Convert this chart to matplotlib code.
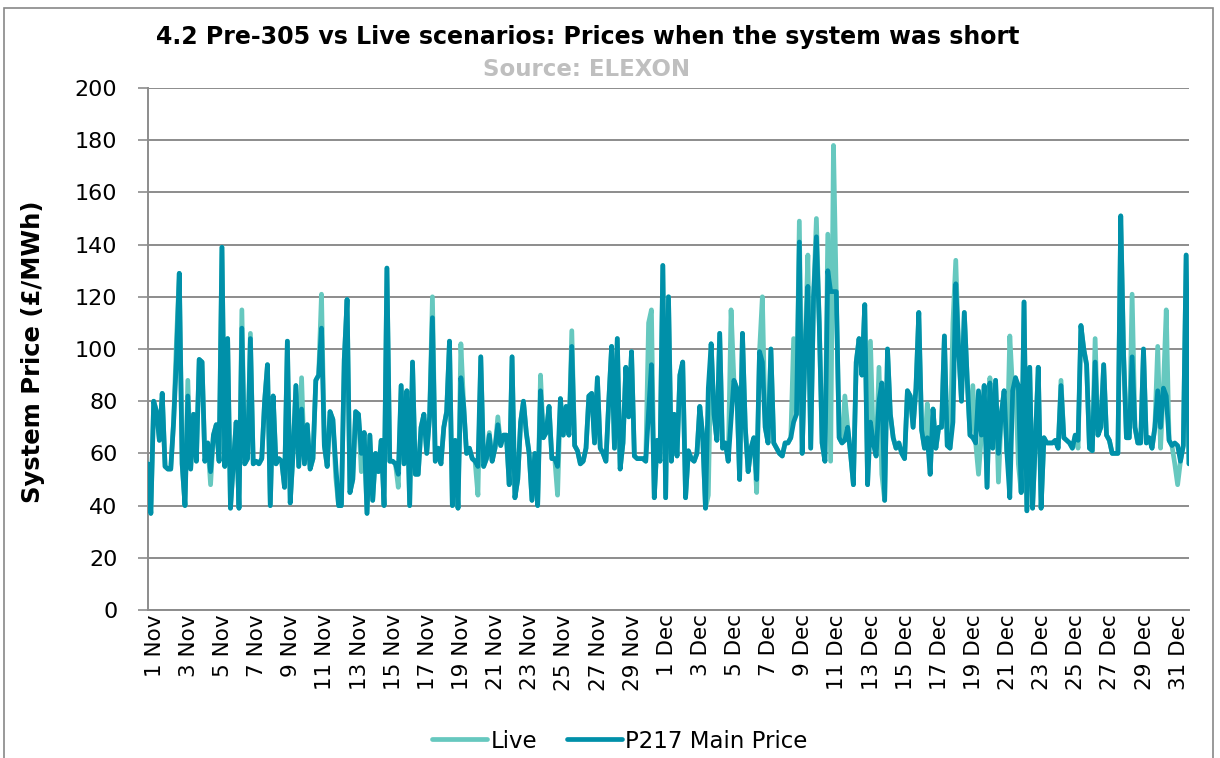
import numpy as np
import matplotlib
matplotlib.use("Agg")
import matplotlib.pyplot as plt
from matplotlib.patches import Rectangle

# ---------------- data ----------------
points_per_day = 6
tick_labels = ["1 Nov", "3 Nov", "5 Nov", "7 Nov", "9 Nov", "11 Nov", "13 Nov", "15 Nov",
               "17 Nov", "19 Nov", "21 Nov", "23 Nov", "25 Nov", "27 Nov", "29 Nov",
               "1 Dec", "3 Dec", "5 Dec", "7 Dec", "9 Dec", "11 Dec", "13 Dec", "15 Dec",
               "17 Dec", "19 Dec", "21 Dec", "23 Dec", "25 Dec", "27 Dec", "29 Dec", "31 Dec"]

p217_nov_a = [56, 37, 80, 76, 65, 83, 55, 54, 54, 72, 96, 129, 56, 40, 82, 54, 75, 57, 96, 95,
              57, 64, 53, 67, 71, 57, 139, 55, 104, 39, 56, 72, 39, 108, 56, 58, 104, 56, 57, 56,
              58, 80, 94, 40, 82, 56, 58, 57, 47, 103, 41]
p217_nov_b = [60, 86, 55, 77, 56, 71, 54, 58, 88, 90, 108, 63, 55, 76, 73, 56, 40, 40, 96, 119,
              45, 50, 76, 75, 60, 68, 37, 67, 42, 60, 53, 65, 40, 131, 57, 57, 56, 52, 86, 56,
              84, 40, 95, 52, 52, 70, 75, 60, 74, 112]
p217_nov_c = [57, 62, 56, 70, 76, 103, 40, 65, 39, 89, 78, 60, 62, 58, 57, 55, 97, 55, 58, 67,
              57, 62, 71, 63, 67, 67, 48, 97, 43, 50, 72, 80, 68, 60, 42, 60, 40, 84, 66, 68,
              78, 58, 58, 55, 81, 67, 78, 67, 101, 63, 61]
p217_dec_a = [56, 57, 62, 82, 83, 64, 89, 62, 60, 57, 80, 101, 62, 104, 54, 64, 93, 74, 99, 59,
              58, 58, 58, 57, 76, 94, 43, 65, 57, 132, 43, 120, 57, 75, 59, 90, 95, 43, 61, 58,
              57, 60, 78, 67, 39, 85, 102, 75, 65, 106, 62]
p217_dec_b = [64, 57, 73, 88, 85, 50, 106, 70, 53, 62, 66, 50, 99, 95, 70, 64, 100, 64, 62, 60,
              59, 64, 64, 66, 72, 75, 141, 60, 100, 124, 62, 120, 143, 110, 64, 57, 130, 122, 122, 122,
              66, 64, 65, 70, 60, 48, 95, 104, 90, 117, 48]
p217_dec_c = [72, 64, 59, 80, 87, 42, 100, 75, 66, 62, 64, 60, 58, 84, 82, 70, 85, 114, 69, 62,
              66, 52, 77, 62, 70, 70, 105, 63, 62, 72, 125, 100, 80, 114, 89, 67, 66, 64, 84, 67,
              86, 47, 87, 62, 88, 60, 75, 84, 60, 43, 84]
p217_dec_d = [89, 86, 45, 118, 38, 93, 39, 65, 93, 39, 66, 64, 64, 64, 65, 62, 86, 66, 65, 64,
              62, 67, 65, 109, 100, 94, 62, 61, 95, 67, 70, 94, 67, 65, 60, 60, 60, 151, 98, 66,
              66, 97, 70, 64, 64, 100, 64, 66, 62, 70, 84, 70, 85, 82, 65, 63, 64, 63, 57, 63,
              136, 56]

# Live price, where it differs from the P217 main price (sample index -> value)
live_index = [10, 14, 22, 33, 36, 54, 61, 66, 75, 88, 100, 110, 116, 120, 123, 138, 144, 149,
              176, 177, 197, 205, 214, 216, 227, 229, 232, 235, 239, 240, 241, 242, 245, 254,
              257, 258, 274, 283, 284, 290, 292, 296, 299, 303, 306, 321, 327, 333, 346, 355,
              356, 358, 361, 362]
live_value = [103, 88, 48, 115, 106, 89, 121, 51, 53, 47, 120, 102, 44, 68, 74, 90, 44, 107,
              110, 115, 44, 115, 45, 120, 104, 149, 136, 150, 144, 57, 178, 120, 82, 103,
              93, 52, 79, 110, 134, 86, 52, 89, 49, 105, 56, 88, 62, 104, 121, 101,
              62, 115, 56, 48]

# ---------------- build ----------------
p217 = np.array(p217_nov_a + p217_nov_b + p217_nov_c + p217_dec_a + p217_dec_b
                + p217_dec_c + p217_dec_d, dtype=float)
live = p217.copy()
live[live_index] = live_value
x = np.arange(len(p217)) / points_per_day

W, H = 1220, 758
plt.rcParams['font.family'] = ['DejaVu Sans']
fig = plt.figure(figsize=(W / 100, H / 100), dpi=100)

ax = fig.add_axes([148 / W, 1 - 610 / H, (1189 - 148) / W, (610 - 88) / H])

dark = '#0090A9'
light = '#66C8BF'
grid_c = '#8C8C8C'

ax.plot(x, live, color=light, lw=3.4, solid_joinstyle='round', solid_capstyle='round',
        label='Live', zorder=3)
ax.plot(x, p217, color=dark, lw=3.4, solid_joinstyle='round', solid_capstyle='round',
        label='P217 Main Price', zorder=4)

ax.set_ylim(0, 200)
ax.set_yticks(np.arange(0, 201, 20))
ax.set_xlim(0, x[-1])
ax.set_xticks(np.arange(len(tick_labels)) * 2 + 0.4)
ax.set_xticklabels(tick_labels, rotation=90, fontsize=15.5)
ax.tick_params(axis='y', labelsize=16, length=7, color=grid_c, width=1.2, pad=15)
ax.tick_params(axis='x', length=0, pad=3)
ax.grid(axis='y', color=grid_c, lw=1.4, zorder=0)
ax.set_axisbelow(True)
for s in ['top', 'right']:
    ax.spines[s].set_visible(False)
for s in ['left', 'bottom']:
    ax.spines[s].set_color(grid_c)
    ax.spines[s].set_linewidth(1.4)

fig.text(33 / W, 1 - 352 / H, 'System Price (£/MWh)', rotation=90, ha='center', va='center',
         fontsize=17.5, fontweight='bold')

fig.text(588 / W, 1 - 37 / H, '4.2 Pre-305 vs Live scenarios: Prices when the system was short',
         ha='center', va='center', fontsize=17, fontweight='bold')
fig.text(587 / W, 1 - 69 / H, 'Source: ELEXON', ha='center', va='center',
         fontsize=16.5, fontweight='bold', color='#BFBFBF')

leg = fig.legend(loc='center', bbox_to_anchor=(620 / W, 1 - 741 / H), ncol=2, frameon=False,
                 fontsize=16.5, handlelength=2.4, columnspacing=1.3, handletextpad=0.15)

fig.patches.append(Rectangle((4 / W, -0.05), (1213 - 4) / W, 1 - 8 / H + 0.05,
                             transform=fig.transFigure, fill=False, edgecolor='#888888', lw=1.2))

fig.savefig('out.png', dpi=100)
